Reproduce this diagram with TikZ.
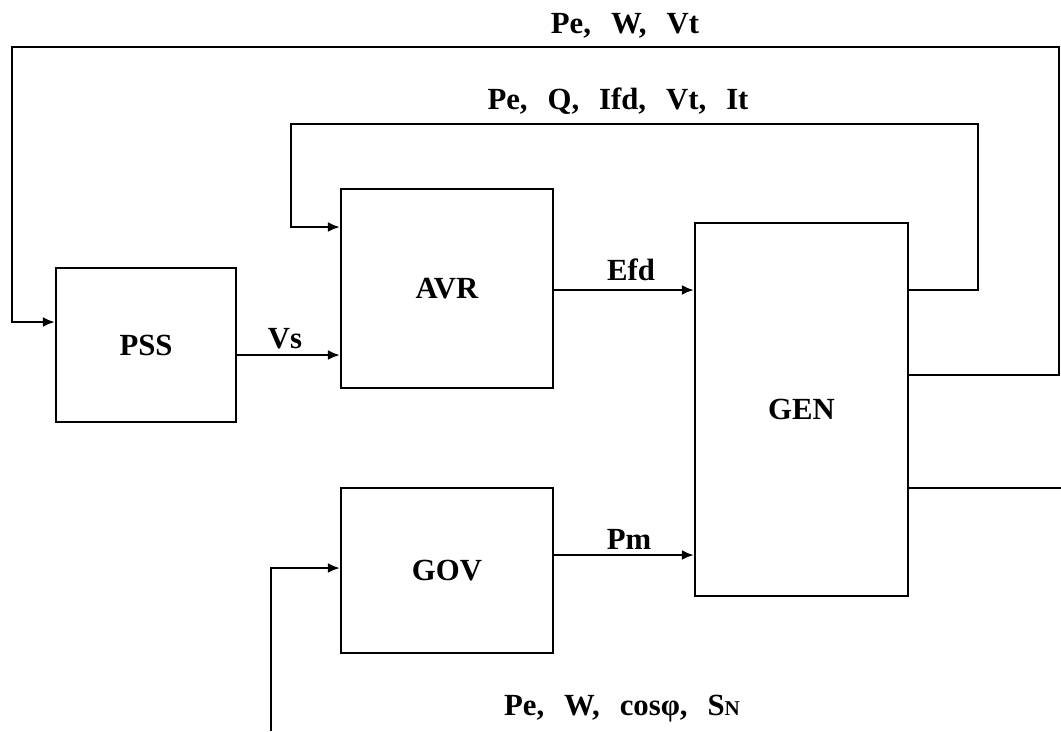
\documentclass[tikz,border=0pt]{standalone}
\usepackage{fontspec}
\setmainfont{Liberation Serif}
\usepackage{graphicx}
\usetikzlibrary{arrows.meta, positioning}

\newcommand{\gap}{,\hspace{0.65em}}

\tikzset{
    block/.style={draw, line width=1.3pt, fill=white, font=\bfseries},
    sig/.style={line width=1.3pt},
    arr/.style={sig, -{Latex[length=2.4mm, width=2mm]}},
    lbl/.style={font=\bfseries, inner sep=0pt}
}

\begin{document}
\begin{tikzpicture}[x=0.02cm, y=-0.02cm]
    \fontsize{17.5}{20}\selectfont
    \useasboundingbox (0,0) rectangle (1061,731);

    % Blocks
    \node[block, minimum width=3.6cm, minimum height=3.08cm] (pss) at (146,345) {PSS};
    \node[block, minimum width=4.24cm, minimum height=3.98cm] (avr) at (447,288.5) {AVR};
    \node[block, minimum width=4.24cm, minimum height=3.3cm] (gov) at (447,570.5) {GOV};
    \node[block, minimum width=4.26cm, minimum height=7.46cm] (gen) at (801.5,409.5) {GEN};

    % Signal levels
    \coordinate (vs) at (0,355);
    \coordinate (efd) at (0,290);
    \coordinate (pm) at (0,555);
    \coordinate (fbone) at (0,375);
    \coordinate (fbtwo) at (0,290);
    \coordinate (inpss) at (0,322);
    \coordinate (inavr) at (0,227);
    \coordinate (ingov) at (0,568);
    \coordinate (out) at (0,488);

    % Forward signals
    \draw[arr] (pss.east |- vs) -- (avr.west |- vs);
    \draw[arr] (avr.east |- efd) -- (gen.west |- efd);
    \draw[arr] (gov.east |- pm) -- (gen.west |- pm);
    \node[lbl] (vslbl) at (285,339) {Vs};
    \node[lbl] (efdlbl) at (631,270) {Efd};
    \node[lbl] (pmlbl) at (629,539) {Pm};

    % Feedback to PSS
    \draw[arr] (gen.east |- fbone) -- (1059,375) -- (1059,47) -- (12,47) -- (12,322) -- (pss.west |- inpss);
    \node[lbl] (pssin) at (625,26) {Pe\gap W\gap Vt};

    % Feedback to AVR
    \draw[arr] (gen.east |- fbtwo) -- (978,290) -- (978,124) -- (291,124) -- (291,227) -- (avr.west |- inavr);
    \node[lbl] (avrin) at (618,101) {Pe\gap Q\gap Ifd\gap Vt\gap It};

    % Output of GEN
    \coordinate (genout) at (1061,488);
    \draw[sig] (gen.east |- out) -- (genout);

    % Input to GOV
    \coordinate (govsrc) at (271,731);
    \draw[arr] (govsrc) -- (271,568) -- (gov.west |- ingov);
    \node[lbl] (govin) at (622,709) {Pe\gap W\gap cosφ\gap S{\fontsize{12}{12}\selectfont N}};

\end{tikzpicture}
\end{document}
